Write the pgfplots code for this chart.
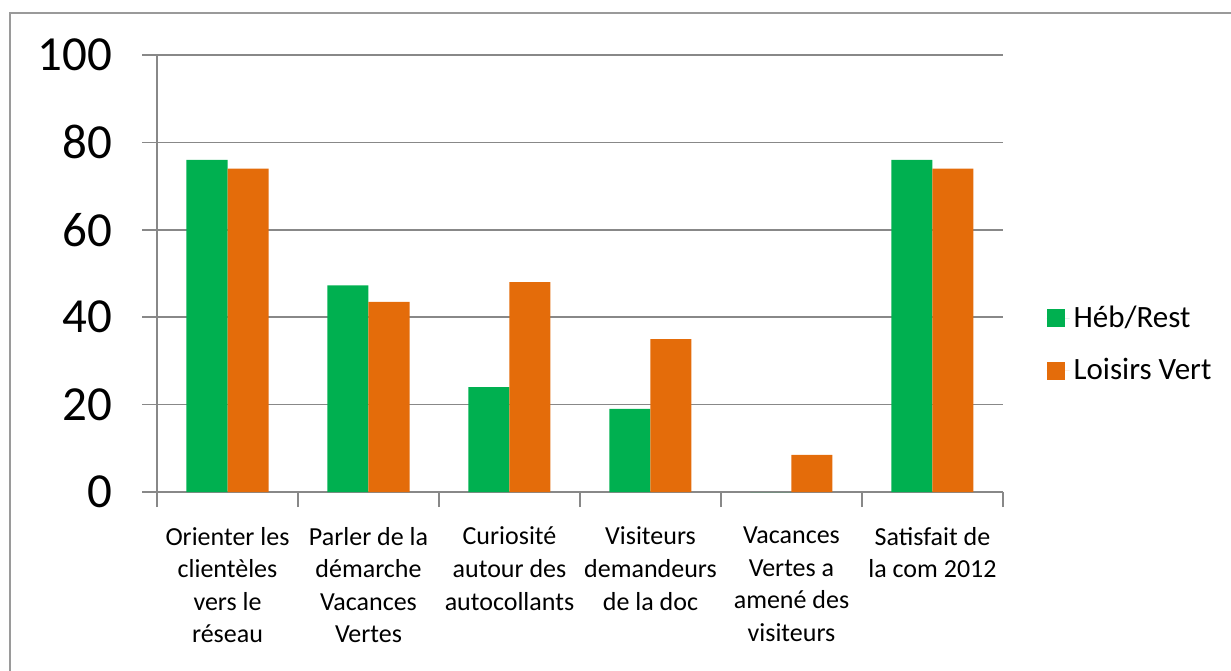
\documentclass[border=0pt]{standalone}
\usepackage{fontspec}
\setmainfont{Carlito}
\usepackage{pgfplots}
\pgfplotsset{compat=1.18}
\definecolor{hebgreen}{HTML}{00B050}
\definecolor{loisorange}{HTML}{E46C0A}
\definecolor{gridgray}{HTML}{888888}
\definecolor{framegray}{HTML}{9A9A9A}

\begin{document}
\begin{tikzpicture}[x=0.5pt,y=-0.5pt]
\useasboundingbox (0,0) rectangle (1231,670);
% outer chart frame (only left and top edges are visible)
\draw[framegray,line width=1pt] (10,675) -- (10,12.5) -- (1236,12.5);
\begin{axis}[
  at={(78.5pt,-246pt)}, anchor=south west,
  scale only axis, width=423pt, height=218.5pt,
  ybar=0pt, bar width=20.5pt,
  xmin=-0.5, xmax=5.5, ymin=0, ymax=100,
  axis lines=left,
  axis line style={draw=gridgray,-,line width=0.8pt},
  ymajorgrids, grid style={draw=gridgray,line width=0.8pt},
  ytick={0,20,...,100},
  major tick length=7.5pt, tick align=outside,
  tick style={draw=gridgray,line width=0.8pt},
  /pgf/number format/assume math mode=true,
  y tick label style={font=\fontsize{24.5}{29}\selectfont, xshift=-11.5pt},
  xtick={-0.5,0.5,...,5.5}, xticklabels={},
  extra x ticks={0,1,2,3,4,5},
  extra x tick labels={{Orienter les\\clientèles\\vers le\\réseau},
    {Parler de la\\démarche\\Vacances\\Vertes},
    {Curiosité\\autour des\\autocollants},
    {Visiteurs\\demandeurs\\de la doc},
    {Vacances\\Vertes a\\amené des\\visiteurs},
    {Satisfait de\\la com 2012}},
  extra x tick style={major tick length=0pt, grid=none,
    tick label style={align=center, font=\fontsize{13}{16.3}\selectfont, yshift=-14pt}},
  legend style={at={(1.044,0.338)}, anchor=west, draw=none, fill=none,
    font=\fontsize{15.5}{19}\selectfont, row sep=10pt, cells={anchor=west}},
]
\addplot[fill=hebgreen, draw=none,
  legend image code/.code={\fill[hebgreen] (0pt,-4.5pt) rectangle (9pt,4.5pt);
    \path (0pt,0pt) -- (11.5pt,0pt);}]
  coordinates {(0,76) (1,47.3) (2,24) (3,19) (4,0) (5,76)};
\addplot[fill=loisorange, draw=none,
  legend image code/.code={\fill[loisorange] (0pt,-4.5pt) rectangle (9pt,4.5pt);
    \path (0pt,0pt) -- (11.5pt,0pt);}]
  coordinates {(0,74) (1,43.5) (2,48) (3,35) (4,8.5) (5,74)};
\legend{Héb/Rest, Loisirs Vert}
\end{axis}
\end{tikzpicture}
\end{document}
